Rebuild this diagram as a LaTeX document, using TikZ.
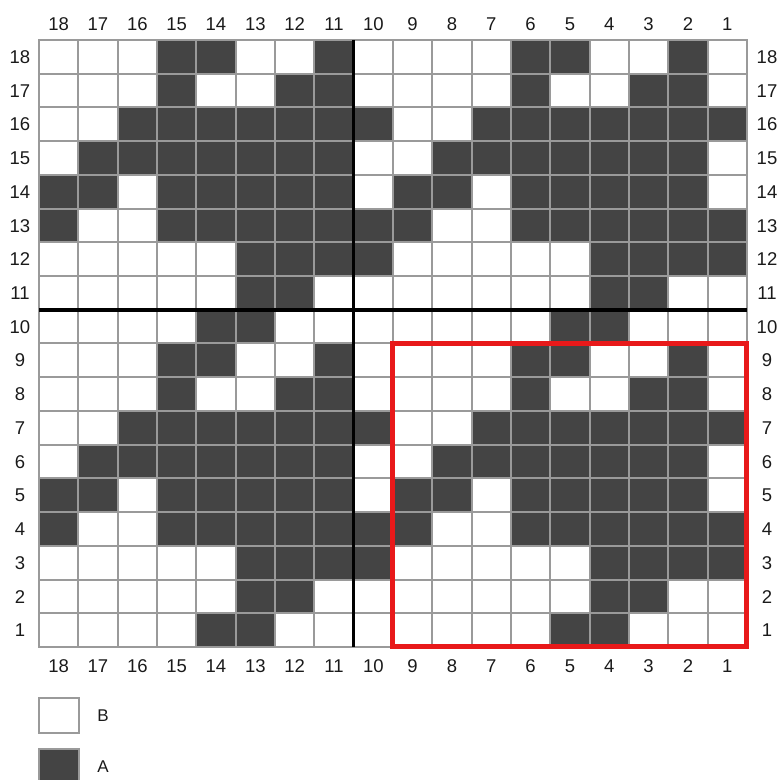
\documentclass[tikz,border=0pt]{standalone}
\usepackage{fontspec}
\setmainfont{Liberation Sans}
\definecolor{cellDark}{HTML}{444444}
\definecolor{gridGray}{HTML}{9A9A9A}
\definecolor{boxRed}{HTML}{E8191A}
\definecolor{labText}{HTML}{1A1A1A}
\begin{document}
\begin{tikzpicture}[x=1pt,y=-1pt,
  darkcell/.style={fill=cellDark},
  gridline/.style={draw=gridGray,line width=2pt,line cap=rect},
  boldline/.style={draw=black,line width=3.6pt},
  redbox/.style={draw=boxRed,line width=5pt},
  lab/.style={font=\fontsize{18.5}{20}\selectfont,text=labText,inner sep=0pt,text height=13.3pt,text depth=0pt},
  leglab/.style={font=\fontsize{17}{19}\selectfont,text=labText,inner sep=0pt,text height=12.2pt,text depth=0pt}]
\useasboundingbox (0,0) rectangle (780,780);
\def\cw{39.33}
\def\ch{33.72}
\def\gx{39}
\def\gy{40}
% dark cells (9x9 motif repeated 2x2)
\foreach \r/\cols in {1/{5,4},2/{4,3},3/{4,3,2,1},4/{9,6,5,4,3,2,1},5/{9,8,6,5,4,3,2},6/{8,7,6,5,4,3,2},7/{7,6,5,4,3,2,1},8/{6,3,2},9/{6,5,2}}{
  \foreach \c in \cols {
    \foreach \dr in {0,9} {
      \foreach \dc in {0,9} {
        \fill[darkcell] ({\gx+(18-\c-\dc)*\cw},{\gy+(18-\r-\dr)*\ch}) rectangle ++(\cw,\ch);
      }
    }
  }
}
% grid
\foreach \i in {0,...,18} {
  \draw[gridline] ({\gx+\i*\cw},\gy) -- ({\gx+\i*\cw},{\gy+18*\ch});
  \draw[gridline] (\gx,{\gy+\i*\ch}) -- ({\gx+18*\cw},{\gy+\i*\ch});
}
% bold dividers
\draw[boldline] ({\gx+8*\cw},\gy) -- ({\gx+8*\cw},{\gy+18*\ch});
\draw[boldline] (\gx,{\gy+8*\ch}) -- ({\gx+18*\cw},{\gy+8*\ch});
% red repeat box
\draw[redbox] ({\gx+9*\cw},{\gy+9*\ch}) rectangle ({\gx+18*\cw},{\gy+18*\ch});
% labels
\foreach \k in {1,...,18} {
  \node[lab] (ct\k) at ({\gx+(18-\k+0.5)*\cw},24) {\k};
  \node[lab] (cb\k) at ({\gx+(18-\k+0.5)*\cw},666) {\k};
  \node[lab] (rl\k) at (20,{\gy+(18-\k+0.5)*\ch}) {\k};
  \node[lab] (rr\k) at (767,{\gy+(18-\k+0.5)*\ch}) {\k};
}
% legend
\draw[gridline,fill=white] (39,698) rectangle (79,733);
\node[leglab] (legB) at (103,715.5) {B};
\draw[gridline,fill=cellDark] (39,749) rectangle (79,784);
\node[leglab] (legA) at (103,766) {A};
\end{tikzpicture}
\end{document}
